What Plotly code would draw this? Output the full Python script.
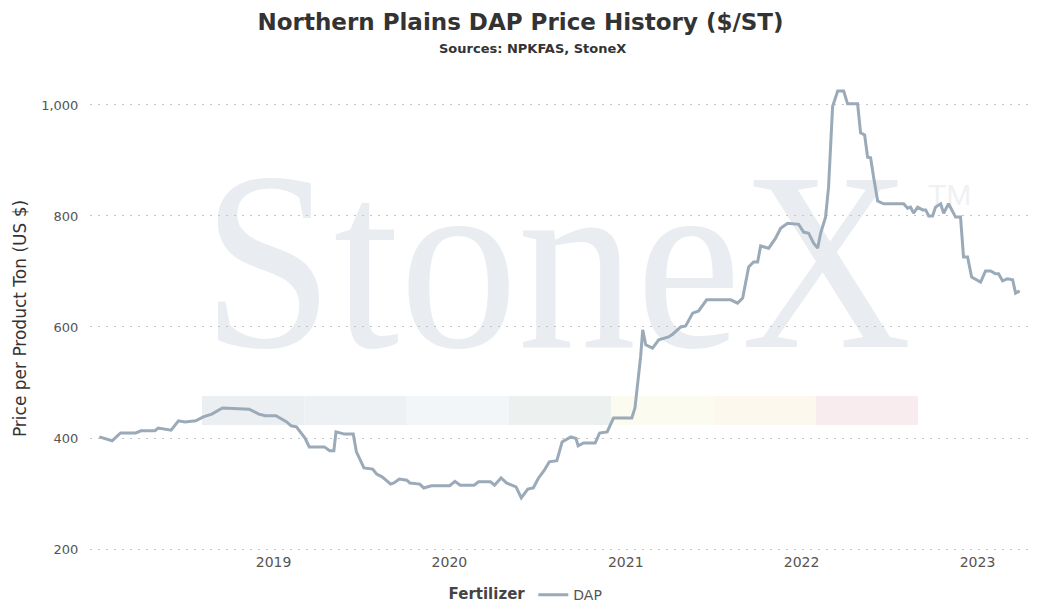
import base64
import datetime as dt
import plotly.graph_objects as go

# years after 2018-01-01
years_since_2018 = [
    0.009, 0.082, 0.130, 0.216, 0.246, 0.325, 0.344, 0.417, 0.459, 0.496,
    0.557, 0.600, 0.648, 0.673, 0.709, 0.861, 0.916, 0.952, 1.013, 1.074,
    1.099, 1.129, 1.178, 1.202, 1.288, 1.318, 1.342, 1.354, 1.403, 1.452,
    1.470, 1.513, 1.562, 1.585, 1.616, 1.665, 1.683, 1.714, 1.756, 1.774,
    1.830, 1.853, 1.896, 2.000, 2.030, 2.060, 2.139, 2.164, 2.232, 2.255,
    2.292, 2.323, 2.377, 2.407, 2.444, 2.475, 2.505, 2.536, 2.566, 2.609,
    2.639, 2.688, 2.718, 2.730, 2.761, 2.827, 2.852, 2.895, 2.931, 3.035,
    3.053, 3.085, 3.097, 3.114, 3.153, 3.188, 3.244, 3.267, 3.313,
    3.341, 3.381, 3.415, 3.460, 3.597, 3.636, 3.665, 3.699, 3.727, 3.750,
    3.767, 3.813, 3.852, 3.881, 3.920, 3.983, 4.011, 4.040, 4.068, 4.091,
    4.108, 4.136, 4.153, 4.176, 4.205, 4.239, 4.261, 4.318, 4.335, 4.358,
    4.375, 4.392, 4.409, 4.432, 4.466, 4.580, 4.602, 4.619, 4.636, 4.659,
    4.688, 4.705, 4.722, 4.744, 4.761, 4.790, 4.807, 4.835, 4.875, 4.903,
    4.920, 4.943, 4.966, 5.017, 5.045, 5.074, 5.102, 5.119, 5.142, 5.170,
    5.199, 5.216, 5.239,
]
dap_price = [
    402, 395, 409, 409, 413, 413, 418, 414, 431, 429,
    431, 438, 443, 447, 454, 452, 443, 440, 440, 429,
    422, 420, 400, 384, 384, 377, 377, 411, 407, 407,
    375, 346, 344, 335, 330, 317, 319, 326, 324, 319,
    317, 310, 314, 314, 322, 315, 315, 321, 321, 315,
    328, 319, 312, 292, 308, 310, 328, 341, 357, 359,
    393, 402, 399, 386, 391, 391, 409, 411, 436, 436,
    454, 546, 595, 568, 562, 577, 582, 587, 600,
    602, 625, 629, 649, 649, 643, 652, 708, 717, 717,
    746, 742, 760, 778, 787, 785, 771, 769, 751, 742,
    769, 798, 852, 997, 1025, 1025, 1002, 1002, 950, 946,
    906, 905, 870, 827, 822, 822, 814, 816, 805, 816,
    811, 811, 800, 800, 816, 822, 805, 822, 798, 798,
    726, 726, 690, 681, 701, 701, 696, 696, 683, 687,
    685, 661, 665,
]
band_colors = ["#eceff2", "#edf1f4", "#f2f6f9", "#ecf1ef", "#fcfbef", "#fdf8ee", "#f9ecee"]


def to_date(offset):
    start = dt.datetime(2018, 1, 1)
    return start + dt.timedelta(days=offset * 365.25)


dates = [to_date(v) for v in years_since_2018]

# watermark drawn as an svg image so it sits beneath the line
svg = (
    '<svg xmlns="http://www.w3.org/2000/svg" width="940" height="467">'
    '<text x="112" y="262" font-family="Liberation Serif, serif" font-size="255" '
    'fill="#e9edf1" textLength="710" lengthAdjust="spacingAndGlyphs">StoneX</text>'
    '<text x="838" y="120" font-family="Liberation Sans, sans-serif" font-size="30" '
    'fill="#eef1f4">TM</text></svg>'
)
svg_uri = "data:image/svg+xml;base64," + base64.b64encode(svg.encode()).decode()

fig = go.Figure(
    go.Scatter(
        x=dates, y=dap_price, mode="lines", name="DAP",
        line=dict(color="#9aaab8", width=3),
    )
)

shapes = []
for i, c in enumerate(band_colors):
    x0 = (202 - 90) / 940 + i * 102.3 / 940
    shapes.append(dict(
        type="rect", xref="paper", yref="paper", layer="below",
        x0=x0, x1=x0 + 102.3 / 940, y0=(552 - 425) / 467, y1=(552 - 396) / 467,
        fillcolor=c, line=dict(width=0),
    ))

fig.update_layout(
    width=1037, height=605,
    margin=dict(l=90, r=7, t=85, b=53, autoexpand=False),
    paper_bgcolor="white", plot_bgcolor="white",
    font=dict(family="DejaVu Sans, sans-serif", color="#555"),
    title=dict(
        text="<b>Northern Plains DAP Price History ($/ST)</b>",
        x=0.502, xanchor="center", y=0.963, yanchor="middle",
        font=dict(size=23, color="#333"),
    ),
    annotations=[dict(
        text="<b>Sources: NPKFAS, StoneX</b>", xref="paper", yref="paper",
        x=(532 - 90) / 940, y=1 + (85 - 48) / 467, xanchor="center", yanchor="middle",
        showarrow=False, font=dict(size=13, color="#333"),
    )],
    xaxis=dict(
        range=[dt.datetime(2017, 12, 16), dt.datetime(2023, 4, 20)],
        showgrid=False, showline=False, ticks="",
        tickvals=[dt.datetime(y, 1, 1) for y in range(2019, 2024)],
        ticktext=[str(y) for y in range(2019, 2024)],
        tickfont=dict(size=14, color="#555"),
    ),
    yaxis=dict(
        range=[194.6, 1036], tickvals=[200, 400, 600, 800, 1000],
        tickformat=",", showgrid=True, gridcolor="#c4c4c4", griddash="2px,6px",
        zeroline=False, showline=False, ticks="outside", ticklen=8, tickcolor="white",
        tickfont=dict(size=13, color="#555"), automargin=False,
        title=dict(text="Price per Product Ton (US $)", standoff=10,
                   font=dict(size=17, color="#333")),
    ),
    showlegend=True,
    legend=dict(
        orientation="h", x=0.465, xanchor="center", y=-0.058, yanchor="top",
        title=dict(text="<b>Fertilizer</b>", font=dict(size=15, color="#444")),
        font=dict(size=14, color="#555"),
    ),
    shapes=shapes,
    images=[dict(
        source=svg_uri, xref="paper", yref="paper", x=0, y=1,
        sizex=1, sizey=1, xanchor="left", yanchor="top",
        sizing="stretch", layer="below",
    )],
)

fig.write_html("out.html", config={"displayModeBar": False},
               post_script="document.body.style.margin='0';")
